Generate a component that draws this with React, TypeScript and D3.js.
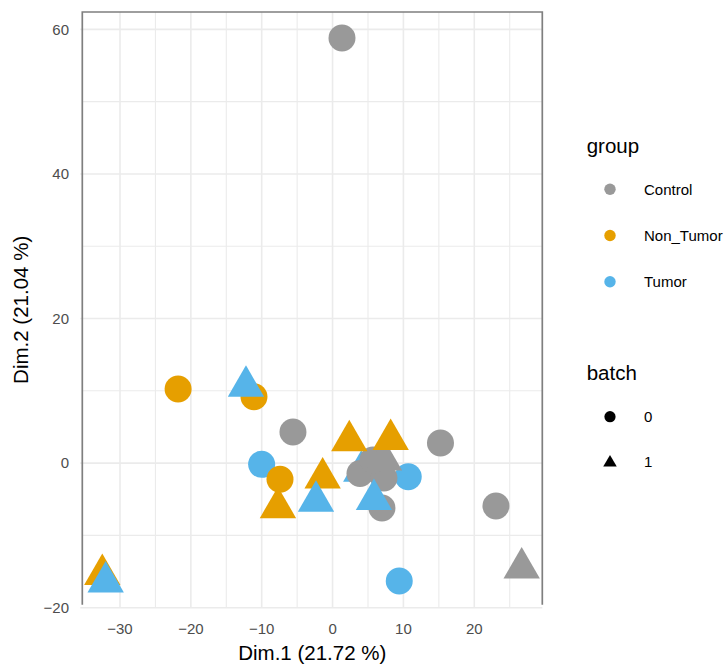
import React from "react";
import * as d3 from "d3";

// Data (draw order preserved)
const pointX = [1.33, -5.59, 15.23, 23.06, 26.69, -21.8, -10.01, -11.09, -7.42, -7.71, -1.4, -32.5, 10.68, 4.05, 3.87, 7.25, 5.7, 7.25, 6.97, 2.36, 8.2, -12.22, -2.34, 5.84, 9.41, -32.02];
const pointY = [58.8, 4.3, 2.78, -5.93, -14.5, 10.25, -0.17, 9.18, -2.24, -6.16, -2.05, -15.42, -1.88, -1.13, -1.44, -2.06, 0.43, 0.43, -6.21, 3.11, 3.25, 10.62, -5.28, -5.05, -16.31, -16.43];
const pointGroup = ["Control", "Control", "Control", "Control", "Control", "Non_Tumor", "Tumor", "Non_Tumor", "Non_Tumor", "Non_Tumor", "Non_Tumor", "Non_Tumor", "Tumor", "Tumor", "Control", "Control", "Control", "Control", "Control", "Non_Tumor", "Non_Tumor", "Tumor", "Tumor", "Tumor", "Tumor", "Tumor"];
const pointBatch = ["0", "0", "0", "0", "1", "0", "0", "0", "0", "1", "1", "1", "0", "1", "0", "0", "0", "1", "0", "1", "1", "1", "1", "1", "0", "1"];

const groups = ["Control", "Non_Tumor", "Tumor"];
const groupColors = ["#999999", "#E69F00", "#56B4E9"];
const batches = ["0", "1"];
const xTicks = [-30, -20, -10, 0, 10, 20];
const xMinor = [-25, -15, -5, 5, 15, 25];
const yTicks = [-20, 0, 20, 40, 60];
const yMinor = [-10, 10, 30, 50];
const xTitle = "Dim.1 (21.72 %)";
const yTitle = "Dim.2 (21.04 %)";

const FONT = "'Liberation Sans', Arial, Helvetica, sans-serif";

function triPath(cx: number, cy: number, r: number) {
  const xc = (r * Math.sqrt(3)) / 2;
  const yc = r / 2;
  return `M${cx},${cy - r}L${cx + xc},${cy + yc}L${cx - xc},${cy + yc}Z`;
}

export default function App() {
  const W = 728, H = 666;
  const left = 82.3, right = 542.3, top = 12, bottom = 607.7;
  const x = d3.scaleLinear().domain([-35.32, 29.6]).range([left, right]);
  const y = d3.scaleLinear().domain([-20, 62.4]).range([bottom, top]);
  const color = d3.scaleOrdinal<string, string>().domain(groups).range(groupColors);
  const cr = 13.5, tr = 21;

  return (
    <svg width={W} height={H} style={{ position: "absolute", left: 0, top: 0, fontFamily: FONT }}>
      <rect x={0} y={0} width={W} height={H} fill="#ffffff" />
      {/* minor grid */}
      {xMinor.map((v) => (
        <line key={"xm" + v} x1={x(v)} x2={x(v)} y1={top} y2={bottom} stroke="#EBEBEB" strokeWidth={1.1} />
      ))}
      {yMinor.map((v) => (
        <line key={"ym" + v} x1={left} x2={right} y1={y(v)} y2={y(v)} stroke="#EBEBEB" strokeWidth={1.1} />
      ))}
      {/* major grid */}
      {xTicks.map((v) => (
        <line key={"xM" + v} x1={x(v)} x2={x(v)} y1={top} y2={bottom} stroke="#EBEBEB" strokeWidth={1.6} />
      ))}
      {yTicks.map((v) => (
        <line key={"yM" + v} x1={left - 2} x2={right} y1={y(v)} y2={y(v)} stroke="#EBEBEB" strokeWidth={1.6} />
      ))}
      {/* border: left, top, right */}
      <path d={`M${left},${bottom - 3}V${top}H${right}V${bottom - 3}`} fill="none" stroke="#7F7F7F" strokeWidth={1.7} />
      {/* points */}
      {pointX.map((px, i) => {
        const cx = x(px), cy = y(pointY[i]);
        const fill = color(pointGroup[i]);
        return pointBatch[i] === "0" ? (
          <circle key={i} cx={cx} cy={cy} r={cr} fill={fill} />
        ) : (
          <path key={i} d={triPath(cx, cy, tr)} fill={fill} />
        );
      })}
      {/* tick labels */}
      {xTicks.map((v) => (
        <text key={"xt" + v} x={x(v)} y={634} textAnchor="middle" fontSize={15} fill="#4D4D4D">
          {v < 0 ? "\u2212" + Math.abs(v) : String(v)}
        </text>
      ))}
      {yTicks.map((v) => (
        <text key={"yt" + v} x={69} y={y(v) + 5.3} textAnchor="end" fontSize={15} fill="#4D4D4D">
          {v < 0 ? "\u2212" + Math.abs(v) : String(v)}
        </text>
      ))}
      {/* axis titles */}
      <text x={(left + right) / 2} y={660} textAnchor="middle" fontSize={20.5} fill="#000">
        {xTitle}
      </text>
      <text transform={`translate(28,${(top + bottom) / 2}) rotate(-90)`} textAnchor="middle" fontSize={20.5} fill="#000">
        {yTitle}
      </text>
      {/* legend: group */}
      <text x={586.7} y={153} fontSize={20.5} fill="#000">group</text>
      {groups.map((g, i) => (
        <g key={g}>
          <circle cx={610} cy={189.3 + i * 46.2} r={5.7} fill={groupColors[i]} />
          <text x={644} y={189.3 + i * 46.2 + 5.3} fontSize={15} fill="#000">{g}</text>
        </g>
      ))}
      {/* legend: batch */}
      <text x={586.7} y={380} fontSize={20.5} fill="#000">batch</text>
      {batches.map((b, i) => {
        const cy = 416.7 + i * 45;
        return (
          <g key={b}>
            {b === "0" ? (
              <circle cx={610} cy={cy} r={5.6} fill="#000" />
            ) : (
              <path d={triPath(610, cy + 1, 7.8)} fill="#000" />
            )}
            <text x={644} y={cy + 5.3} fontSize={15} fill="#000">{b}</text>
          </g>
        );
      })}
    </svg>
  );
}
